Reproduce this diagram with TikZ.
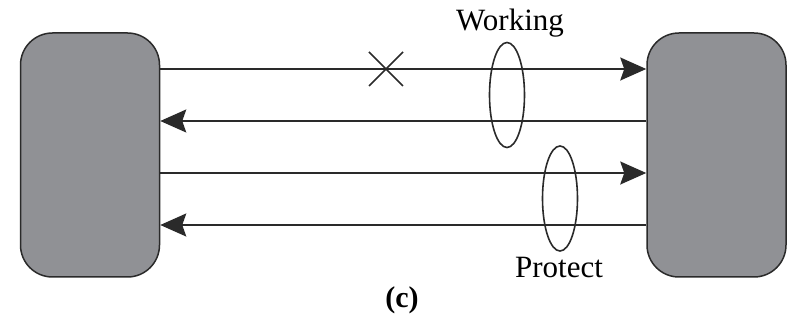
\documentclass[tikz,border=0pt]{standalone}
\usepackage{fontspec}
\setmainfont{Liberation Serif}
\usetikzlibrary{arrows.meta,shapes.geometric}
\definecolor{boxgray}{HTML}{909195}
\definecolor{linegray}{HTML}{2A2A2A}
\tikzset{
  endbox/.style={draw=linegray, line width=1.5pt, fill=boxgray, rounded corners=32pt,
    minimum width=139pt, minimum height=244pt, inner sep=0pt},
  link/.style={draw=linegray, line width=1.8pt, -{Stealth[length=26pt, width=23pt, inset=4pt]}},
  ring/.style={draw=linegray, line width=1.6pt, ellipse, minimum width=35pt, minimum height=105pt, inner sep=0pt},
  lbl/.style={font=\fontsize{31}{36}\selectfont, text=black, inner sep=0pt}
}
\begin{document}
\begin{tikzpicture}[x=1pt,y=-1pt]
\useasboundingbox (0,0) rectangle (788,320);
\node[endbox] (L) at (90,155) {};
\node[endbox] (R) at (716.5,155) {};
% working pair
\draw[link] (L.east |- 0,69) -- (R.west |- 0,69);
\draw[link] (R.west |- 0,121) -- (L.east |- 0,121);
% protect pair
\draw[link] (L.east |- 0,173) -- (R.west |- 0,173);
\draw[link] (R.west |- 0,225) -- (L.east |- 0,225);
% failure mark
\coordinate (X) at (386,69);
\draw[draw=linegray, line width=1.5pt] ([shift={(-17,-17)}]X) -- ([shift={(17,17)}]X)
  ([shift={(-17,17)}]X) -- ([shift={(17,-17)}]X);
% ellipses
\node[ring] (W) at (507,95) {};
\node[ring] (P) at (560,198.5) {};
\node[lbl] (wl) at (510,23) {Working};
\node[lbl] (pl) at (559,268) {Protect};
\node[lbl, font=\fontsize{30}{35}\selectfont\bfseries] (c) at (402,300) {(c)};
\end{tikzpicture}
\end{document}
